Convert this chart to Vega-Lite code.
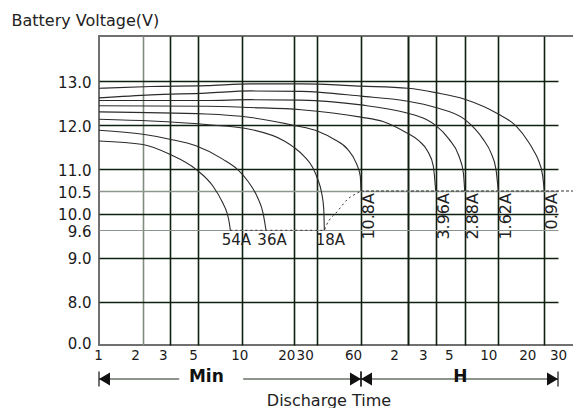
{
  "$schema": "https://vega.github.io/schema/vega-lite/v6.json",
  "padding": {"left": 10, "top": 11, "right": 0, "bottom": 0},
  "spacing": 5,
  "config": {
    "view": {"stroke": null},
    "font": "DejaVu Sans",
    "axis": {"labelFont": "DejaVu Sans", "titleFont": "DejaVu Sans"},
    "text": {"font": "DejaVu Sans"}
  },
  "datasets": {
    "curves": [
      {"rate": "0.9A", "t": 1, "v": 12.84}, {"rate": "0.9A", "t": 2.26, "v": 12.88}, {"rate": "0.9A", "t": 5.67, "v": 12.9}, {"rate": "0.9A", "t": 11.2, "v": 12.94}, {"rate": "0.9A", "t": 22.6, "v": 12.94}, {"rate": "0.9A", "t": 60, "v": 12.89}, {"rate": "0.9A", "t": 120, "v": 12.84}, {"rate": "0.9A", "t": 180, "v": 12.74}, {"rate": "0.9A", "t": 300, "v": 12.59}, {"rate": "0.9A", "t": 600, "v": 12.25}, {"rate": "0.9A", "t": 783, "v": 11.98}, {"rate": "0.9A", "t": 953, "v": 11.6}, {"rate": "0.9A", "t": 1027, "v": 11.41}, {"rate": "0.9A", "t": 1091, "v": 11.23}, {"rate": "0.9A", "t": 1171, "v": 10.85}, {"rate": "0.9A", "t": 1200, "v": 10.5},
      {"rate": "1.62A", "t": 1, "v": 12.62}, {"rate": "1.62A", "t": 2.26, "v": 12.69}, {"rate": "1.62A", "t": 5.67, "v": 12.73}, {"rate": "1.62A", "t": 11.2, "v": 12.78}, {"rate": "1.62A", "t": 22.6, "v": 12.77}, {"rate": "1.62A", "t": 60, "v": 12.66}, {"rate": "1.62A", "t": 116.6, "v": 12.55}, {"rate": "1.62A", "t": 180, "v": 12.4}, {"rate": "1.62A", "t": 300, "v": 12.13}, {"rate": "1.62A", "t": 371, "v": 11.91}, {"rate": "1.62A", "t": 438, "v": 11.68}, {"rate": "1.62A", "t": 516, "v": 11.37}, {"rate": "1.62A", "t": 572, "v": 11.0}, {"rate": "1.62A", "t": 600, "v": 10.5},
      {"rate": "2.88A", "t": 1, "v": 12.56}, {"rate": "2.88A", "t": 5.67, "v": 12.56}, {"rate": "2.88A", "t": 11.2, "v": 12.58}, {"rate": "2.88A", "t": 22.6, "v": 12.57}, {"rate": "2.88A", "t": 60, "v": 12.46}, {"rate": "2.88A", "t": 116.6, "v": 12.28}, {"rate": "2.88A", "t": 156, "v": 12.13}, {"rate": "2.88A", "t": 180, "v": 11.99}, {"rate": "2.88A", "t": 227.5, "v": 11.68}, {"rate": "2.88A", "t": 271, "v": 11.3}, {"rate": "2.88A", "t": 293, "v": 10.92}, {"rate": "2.88A", "t": 300, "v": 10.5},
      {"rate": "3.96A", "t": 1, "v": 12.44}, {"rate": "3.96A", "t": 5.67, "v": 12.43}, {"rate": "3.96A", "t": 11.2, "v": 12.4}, {"rate": "3.96A", "t": 22.6, "v": 12.35}, {"rate": "3.96A", "t": 60, "v": 12.18}, {"rate": "3.96A", "t": 83, "v": 12.08}, {"rate": "3.96A", "t": 116.6, "v": 11.83}, {"rate": "3.96A", "t": 141, "v": 11.64}, {"rate": "3.96A", "t": 160, "v": 11.41}, {"rate": "3.96A", "t": 173.8, "v": 11.07}, {"rate": "3.96A", "t": 180, "v": 10.5},
      {"rate": "10.8A", "t": 1, "v": 12.3}, {"rate": "10.8A", "t": 5.67, "v": 12.25}, {"rate": "10.8A", "t": 11.2, "v": 12.17}, {"rate": "10.8A", "t": 20, "v": 11.99}, {"rate": "10.8A", "t": 30.5, "v": 11.86}, {"rate": "10.8A", "t": 39.3, "v": 11.68}, {"rate": "10.8A", "t": 48.7, "v": 11.45}, {"rate": "10.8A", "t": 55.5, "v": 11.15}, {"rate": "10.8A", "t": 59.3, "v": 10.85}, {"rate": "10.8A", "t": 60, "v": 10.5},
      {"rate": "18A", "t": 1, "v": 12.13}, {"rate": "18A", "t": 2.26, "v": 12.09}, {"rate": "18A", "t": 5.67, "v": 12.01}, {"rate": "18A", "t": 11.2, "v": 11.9}, {"rate": "18A", "t": 17.5, "v": 11.64}, {"rate": "18A", "t": 20, "v": 11.49}, {"rate": "18A", "t": 23.8, "v": 11.3}, {"rate": "18A", "t": 27.9, "v": 11.04}, {"rate": "18A", "t": 30.5, "v": 10.77}, {"rate": "18A", "t": 32.4, "v": 10.46}, {"rate": "18A", "t": 33.5, "v": 10.1}, {"rate": "18A", "t": 33.8, "v": 9.6},
      {"rate": "36A", "t": 1, "v": 11.88}, {"rate": "36A", "t": 2, "v": 11.79}, {"rate": "36A", "t": 3, "v": 11.68}, {"rate": "36A", "t": 4.82, "v": 11.53}, {"rate": "36A", "t": 7.36, "v": 11.23}, {"rate": "36A", "t": 9.54, "v": 10.96}, {"rate": "36A", "t": 10.75, "v": 10.73}, {"rate": "36A", "t": 12.28, "v": 10.35}, {"rate": "36A", "t": 13.18, "v": 10.02}, {"rate": "36A", "t": 13.72, "v": 9.6},
      {"rate": "54A", "t": 1, "v": 11.64}, {"rate": "54A", "t": 2, "v": 11.56}, {"rate": "54A", "t": 3, "v": 11.34}, {"rate": "54A", "t": 4.82, "v": 11.0}, {"rate": "54A", "t": 6.29, "v": 10.62}, {"rate": "54A", "t": 7.36, "v": 10.24}, {"rate": "54A", "t": 7.87, "v": 10.02}, {"rate": "54A", "t": 8.16, "v": 9.78}, {"rate": "54A", "t": 8.29, "v": 9.6}
    ],
    "cutoff": [
      {"t": 8.29, "v": 9.6}, {"t": 33.8, "v": 9.6}, {"t": 34.7, "v": 9.7}, {"t": 41.7, "v": 10.06}, {"t": 48.7, "v": 10.32}, {"t": 57, "v": 10.46}, {"t": 60, "v": 10.5}
    ],
    "ranges": [
      {"unit": "Min", "from": 1, "to": 60, "mid": 5.7},
      {"unit": "H", "from": 60, "to": 1800, "mid": 278}
    ],
    "arrows": [
      {"t": 1, "dir": "left"}, {"t": 60, "dir": "right"}, {"t": 60, "dir": "left"}, {"t": 1800, "dir": "right"}
    ]
  },
  "vconcat": [
    {
      "width": 476,
      "height": 309,
      "view": {"stroke": "#707070", "strokeWidth": 2},
      "layer": [
        {
          "data": {"name": "curves"},
          "mark": {"type": "line", "interpolate": "monotone", "color": "#2b2b2b", "strokeWidth": 1.1},
          "encoding": {
            "x": {
              "field": "t", "type": "quantitative",
              "scale": {"type": "log", "nice": false, "domain": [1, 2, 3, 5, 10, 20, 30, 60, 120, 180, 300, 600, 1200, 1800], "range": [0, 44, 70.7, 99, 143.3, 195.3, 217.7, 262, 309, 336.7, 365.7, 399.3, 445.3, 459]},
              "axis": {
                "title": null,
                "values": [1, 2, 3, 5, 10, 20, 30, 60, 120, 180, 300, 600, 1200, 1800],
                "tickCount": 50,
                "labelExpr": "datum.value >= 120 ? format(datum.value / 60, 'd') : format(datum.value, 'd')",
                "labelOffset": {"expr": "[-1, -8, -7, -5, -3, -8, -12, -8, -14, -13, -16, -10, -17, 0][indexof([1, 2, 3, 5, 10, 20, 30, 60, 120, 180, 300, 600, 1200, 1800], datum.value)]"},
                "labelFlush": false, "labelOverlap": false, "labelBound": false,
                "labelPadding": 3, "labelFontSize": 13.5, "labelColor": "#1a1a1a",
                "ticks": false, "domain": false, "grid": true,
                "gridColor": {"condition": {"test": "datum.value === 2", "value": "#7f8c7f"}, "value": "#102010"},
                "gridOpacity": {"condition": {"test": "datum.value === 1 || datum.value === 1800", "value": 0}, "value": 1},
                "gridWidth": {"condition": {"test": "datum.value === 120", "value": 2}, "value": 1.6}
              }
            },
            "y": {
              "field": "v", "type": "quantitative",
              "scale": {"type": "linear", "nice": false, "zero": false, "domain": [7, 8, 9, 9.6, 10, 10.5, 11, 12, 13, 14], "range": [309, 265.7, 221.7, 194.3, 177.7, 155, 133.3, 89, 45.3, 0]},
              "axis": {
                "title": "Battery Voltage(V)",
                "titleAngle": 0, "titleAlign": "left", "titleBaseline": "alphabetic",
                "titleX": -88, "titleY": -11, "titleFontSize": 16, "titleFontWeight": "normal", "titleColor": "#222222",
                "values": [7, 8, 9, 9.6, 10, 10.5, 11, 12, 13],
                "tickCount": 50,
                "labelExpr": "datum.value === 7 ? '0.0' : format(datum.value, '.1f')",
                "labelFlush": false, "labelOverlap": false, "labelBound": false,
                "labelPadding": 8, "labelFontSize": 15, "labelColor": "#1a1a1a",
                "labelOffset": {"expr": "datum.value === 7 ? -2 : 1"},
                "ticks": false, "domain": false, "grid": true,
                "gridColor": {"condition": {"test": "datum.value === 9.6 || datum.value === 10.5", "value": "#8c968c"}, "value": "#102010"},
                "gridOpacity": {"condition": {"test": "datum.value === 7", "value": 0}, "value": 1},
                "gridWidth": {"condition": {"test": "datum.value === 9.6", "value": 1}, "value": 1.6}
              }
            },
            "detail": {"field": "rate"}
          }
        },
        {
          "data": {"name": "cutoff"},
          "mark": {"type": "line", "interpolate": "monotone", "strokeDash": [2, 3], "color": "#333333", "strokeWidth": 1},
          "encoding": {
            "x": {"field": "t", "type": "quantitative"},
            "y": {"field": "v", "type": "quantitative"}
          }
        },
        {
          "data": {"values": [{"t": 60, "v": 10.5}]},
          "mark": {"type": "rule", "strokeDash": [3, 2], "color": "#333333", "strokeWidth": 1},
          "encoding": {
            "x": {"field": "t", "type": "quantitative"},
            "x2": {"value": "width"},
            "y": {"field": "v", "type": "quantitative"}
          }
        },
        {
          "data": {"name": "curves"},
          "transform": [
            {"aggregate": [{"op": "argmax", "field": "t", "as": "end"}], "groupby": ["rate"]},
            {"filter": {"field": "rate", "oneOf": ["54A", "36A", "18A"]}}
          ],
          "mark": {"type": "text", "align": "center", "baseline": "top", "dx": 6, "dy": 3, "fontSize": 15, "color": "#222222"},
          "encoding": {
            "x": {"field": "end.t", "type": "quantitative"},
            "y": {"field": "end.v", "type": "quantitative"},
            "text": {"field": "rate"}
          }
        },
        {
          "data": {"name": "curves"},
          "transform": [
            {"aggregate": [{"op": "argmax", "field": "t", "as": "end"}], "groupby": ["rate"]},
            {"filter": {"field": "rate", "oneOf": ["10.8A", "3.96A", "2.88A", "1.62A", "0.9A"]}}
          ],
          "mark": {"type": "text", "angle": 270, "align": "right", "baseline": "top", "dx": -2, "dy": 0, "fontSize": 16, "color": "#222222"},
          "encoding": {
            "x": {"field": "end.t", "type": "quantitative"},
            "y": {"field": "end.v", "type": "quantitative"},
            "text": {"field": "rate"}
          }
        }
      ]
    },
    {
      "width": 476,
      "height": 20,
      "view": {"stroke": null},
      "layer": [
        {
          "data": {"name": "ranges"},
          "mark": {"type": "rule", "color": "#1a2a1a", "strokeWidth": 1.2},
          "encoding": {
            "x": {
              "field": "from", "type": "quantitative",
              "scale": {"type": "log", "nice": false, "domain": [1, 2, 3, 5, 10, 20, 30, 60, 120, 180, 300, 600, 1200, 1800], "range": [0, 44, 70.7, 99, 143.3, 195.3, 217.7, 262, 309, 336.7, 365.7, 399.3, 445.3, 459]},
              "axis": {"title": "Discharge Time", "labels": false, "ticks": false, "domain": false, "grid": false, "titleFontSize": 16, "titleFontWeight": "normal", "titlePadding": 3, "titleColor": "#222222"}
            },
            "x2": {"field": "to"}
          }
        },
        {
          "data": {"name": "ranges"},
          "transform": [{"filter": "datum.unit === 'Min'"}],
          "mark": {"type": "point", "shape": "M-0.85,-0.25H1.15V0.25H-0.85Z", "filled": true, "color": "white", "opacity": 1, "size": 4096, "strokeWidth": 0},
          "encoding": {"x": {"field": "mid", "type": "quantitative"}}
        },
        {
          "data": {"name": "ranges"},
          "mark": {"type": "text", "fontWeight": "bold", "fontSize": 17, "dy": -2, "color": "#111111"},
          "encoding": {
            "x": {"field": "mid", "type": "quantitative"},
            "text": {"field": "unit"}
          }
        },
        {
          "data": {"name": "arrows"},
          "mark": {"type": "point", "filled": true, "opacity": 1, "size": 121, "color": "#111111", "strokeWidth": 0},
          "encoding": {
            "x": {"field": "t", "type": "quantitative"},
            "shape": {"field": "dir", "type": "nominal", "scale": {"domain": ["left", "right"], "range": ["M0,0L2,-1.2L2,1.2Z", "M0,0L-2,-1.2L-2,1.2Z"]}, "legend": null}
          }
        },
        {
          "data": {"name": "arrows"},
          "mark": {"type": "tick", "size": 15, "thickness": 1.2, "color": "#111111", "opacity": 1},
          "encoding": {"x": {"field": "t", "type": "quantitative"}}
        }
      ],
      "resolve": {"scale": {"shape": "independent"}}
    }
  ],
  "resolve": {"scale": {"x": "independent"}}
}
